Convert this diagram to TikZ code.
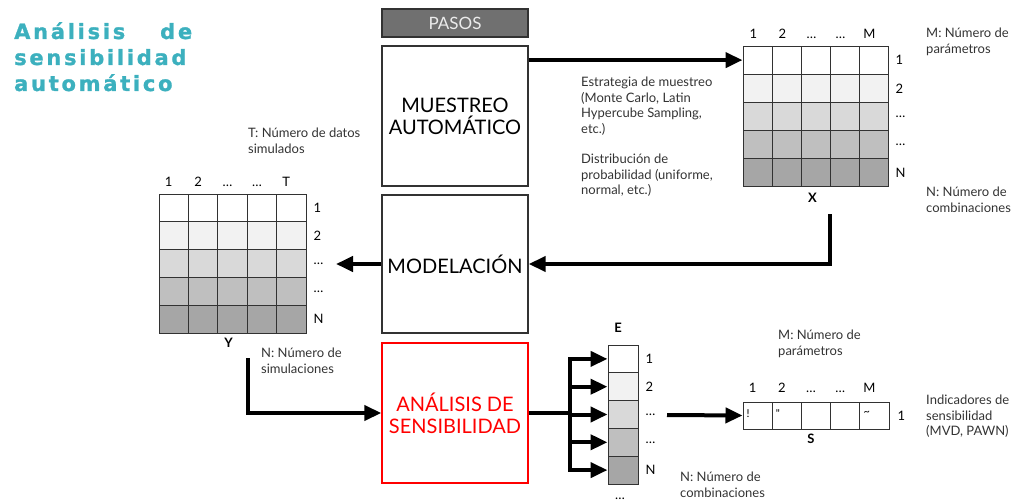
\documentclass[tikz,border=0pt]{standalone}
\usepackage{fontspec}
\setmainfont{Lato}
\newfontfamily\titulofont[LetterSpace=13,FakeBold=1.2]{DejaVu Sans}
\usetikzlibrary{arrows.meta}
\usetikzlibrary{positioning}
\definecolor{turquesa}{RGB}{60,176,190}
\definecolor{grispasos}{RGB}{112,112,112}
\definecolor{borde}{RGB}{50,50,50}

\begin{document}
\begin{tikzpicture}[x=1pt,y=-1pt,line join=miter,
  paso/.style={draw=borde,line width=1.4pt,minimum width=146pt,minimum height=140pt,inner sep=0pt,align=center,font=\fontsize{20}{22}\selectfont},
  celda/.style={draw=borde,line width=1pt,inner sep=0pt,minimum width=29pt,minimum height=28pt},
  indice/.style={inner sep=0pt,font=\fontsize{13}{14}\selectfont},
  nota/.style={inner sep=0pt,anchor=north west,align=left,text=black!80,font=\fontsize{13}{15.5}\selectfont},
  flecha/.style={line width=4pt,-{Triangle[length=17pt,width=15pt]}}]
\useasboundingbox (0,0) rectangle (1018,503);

% titulo
\node[anchor=north west,inner sep=0pt,align=left,text=turquesa,
  font=\titulofont\bfseries\fontsize{21}{26}\selectfont] (titulo) at (14,22)
  {\makebox[178pt][s]{Análisis de}\\sensibilidad\\automático};

% pasos
\node[paso,minimum height=28pt,fill=grispasos,text=black!8,font=\fontsize{17}{20}\selectfont] (pasos) at (455,23) {PASOS};
\node[paso] (muestreo) at (455,116) {MUESTREO\\AUTOMÁTICO};
\node[paso,minimum height=138pt] (modelacion) at (455,264) {MODELACIÓN};
\node[paso,draw=red,text=red] (analisis) at (455,413) {ANÁLISIS DE\\SENSIBILIDAD};

% matriz X
\foreach \r/\g in {1/0,2/5,3/15,4/25,5/35}
  \foreach \c in {1,...,5}
    \node[celda,fill=black!\g] (X-\r-\c) at ({743+29*(\c-0.5)},{46+28.2*(\r-0.5)}) {};
\foreach \c/\t in {1/1,2/2,3/\dots,4/\dots,5/M}
  \node[indice,above=7pt of X-1-\c,xshift=-4pt] {\t};
\foreach \r/\t in {1/1,2/2,3/\dots,4/\dots,5/N}
  \node[indice,right=7pt of X-\r-5] {\t};
\node[indice,font=\bfseries\fontsize{13}{14}\selectfont,below=6pt of X-5-3,xshift=-3pt] (nomX) {X};

% matriz Y
\foreach \r/\g in {1/0,2/5,3/15,4/25,5/35}
  \foreach \c in {1,...,5}
    \node[celda,fill=black!\g,minimum width=29.4pt,minimum height=27.8pt] (Y-\r-\c) at ({159+29.4*(\c-0.5)},{194+27.8*(\r-0.5)}) {};
\foreach \c/\t in {1/1,2/2,3/\dots,4/\dots,5/T}
  \node[indice,above=7pt of Y-1-\c,xshift=-5pt] {\t};
\foreach \r/\t in {1/1,2/2,3/\dots,4/\dots,5/N}
  \node[indice,right=7pt of Y-\r-5] {\t};
\node[indice,font=\bfseries\fontsize{13}{14}\selectfont,below=4pt of Y-5-3,xshift=-4pt] (nomY) {Y};

% vector E
\foreach \r/\g in {1/0,2/5,3/15,4/25,5/35}
  \node[celda,fill=black!\g,minimum width=30pt,minimum height=27.8pt] (E-\r-1) at (623,{345+27.8*(\r-0.5)}) {};
\foreach \r/\t in {1/1,2/2,3/\dots,4/\dots,5/N}
  \node[indice,right=7pt of E-\r-1] {\t};
\node[indice,font=\bfseries\fontsize{13}{14}\selectfont,above=12pt of E-1-1,xshift=-5pt] (nomE) {E};
\node[indice,below=13pt of E-5-1,xshift=-3pt] {\dots};

% vector S
\foreach \c in {1,...,5}
  \node[celda,minimum width=29.2pt,minimum height=27pt] (S-1-\c) at ({743+29.2*(\c-0.5)},415.5) {};
\foreach \c/\t in {1/1,2/2,3/\dots,4/\dots,5/M}
  \node[indice,above=9pt of S-1-\c,xshift=-5pt] {\t};
\node[indice,right=8pt of S-1-5] {1};
\node[indice,font=\bfseries\fontsize{13}{14}\selectfont,below=4pt of S-1-3,xshift=-5pt] (nomS) {S};
\foreach \c/\t in {1/!,2/\textquotedbl,5/\textasciitilde}
  \node[indice,font=\fontsize{11}{12}\selectfont,anchor=west] at ([xshift=4pt,yshift=2pt]S-1-\c.west) {\t};

% notas
\node[nota] (estrategia) at (581,77) {Estrategia de muestreo\\(Monte Carlo, Latin\\Hypercube Sampling,\\etc.)};
\node[nota] (distribucion) at (581,154) {Distribución de\\probabilidad (uniforme,\\normal, etc.)};
\node[nota] (parX) at (926,28) {M: Número de\\parámetros};
\node[nota] (combX) at (926,187) {N: Número de\\combinaciones};
\node[nota] (datosY) at (248,128) {T: Número de datos\\simulados};
\node[nota] (simY) at (261,348) {N: Número de\\simulaciones};
\node[nota] (parS) at (778,330) {M: Número de\\parámetros};
\node[nota] (indS) at (926,395) {Indicadores de\\sensibilidad\\(MVD, PAWN)};
\node[nota] (combE) at (680,472) {N: Número de\\combinaciones};

% flechas
\coordinate (xbaja) at (830,214);
\coordinate (yllega) at (336,264);
\coordinate (ysale) at (248,358);
\coordinate (rama) at (570,413);
\coordinate (sllega) at (667,415);
\draw[flecha] (muestreo.east |- X-1-1) -- (X-1-1.west);
\draw[flecha] (xbaja) |- (modelacion.east);
\draw[flecha] (modelacion.west) -- (yllega);
\draw[flecha] (ysale) |- (analisis.west);
\draw[line width=4pt] (analisis.east) -- (rama);
\draw[line width=4pt,line cap=rect] (rama |- E-1-1) -- (rama |- E-5-1);
\foreach \r in {1,...,5}
  \draw[flecha] (rama |- E-\r-1) -- (E-\r-1.west);
\draw[flecha] (sllega) -- (S-1-1.west);
\end{tikzpicture}
\end{document}
